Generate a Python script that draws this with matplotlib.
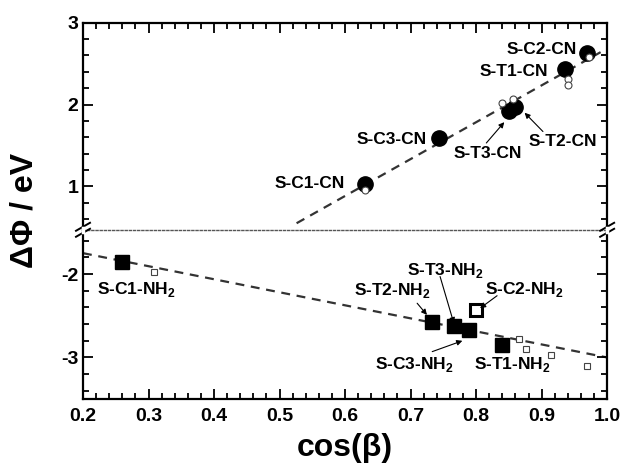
import matplotlib
matplotlib.use("Agg")
import matplotlib.pyplot as plt
from matplotlib.ticker import MultipleLocator
from matplotlib.lines import Line2D

plt.rcParams['font.family'] = ['Liberation Sans', 'DejaVu Sans']
plt.rcParams['font.weight'] = 'bold'
plt.rcParams['axes.unicode_minus'] = False
plt.rcParams['mathtext.fontset'] = 'custom'
plt.rcParams['mathtext.rm'] = 'Liberation Sans:bold'
plt.rcParams['mathtext.bf'] = 'Liberation Sans:bold'

# CN compounds (filled circles) and their small open companions
cn_names = ['S-C1-CN', 'S-C3-CN', 'S-T3-CN', 'S-T2-CN', 'S-T1-CN', 'S-C2-CN']
cn_x = [0.631, 0.744, 0.850, 0.860, 0.936, 0.970]
cn_y = [1.03, 1.595, 1.92, 1.97, 2.44, 2.63]
cn_open_x = [0.631, 0.840, 0.857, 0.940, 0.940, 0.972]
cn_open_y = [0.96, 2.02, 2.07, 2.31, 2.24, 2.58]
cn_fit_x = [0.526, 0.99]
cn_fit_y = [0.55, 2.64]

# NH2 compounds (filled squares), S-C2-NH2 drawn as thick open square
nh2_names = ['S-C1-NH2', 'S-T2-NH2', 'S-T3-NH2', 'S-C3-NH2', 'S-T1-NH2']
nh2_x = [0.259, 0.733, 0.767, 0.789, 0.840]
nh2_y = [-1.86, -2.57, -2.62, -2.67, -2.85]
c2nh2_x = [0.800]
c2nh2_y = [-2.43]
nh2_open_x = [0.308, 0.866, 0.876, 0.914, 0.970]
nh2_open_y = [-1.98, -2.78, -2.90, -2.97, -3.10]
nh2_fit_x = [0.2, 1.0]
nh2_fit_y = [-1.75, -3.0]

fig = plt.figure(figsize=(6.24, 4.68), dpi=100)
ax_top = fig.add_axes([0.133, 0.509, 0.840, 0.4425])
ax_bot = fig.add_axes([0.133, 0.147, 0.840, 0.362])

# lines and markers
ax_top.plot(cn_fit_x, cn_fit_y, ls=(0, (4, 3)), color='#333333', lw=1.6, zorder=1)
ax_top.plot(cn_x, cn_y, 'o', color='black', ms=11, zorder=2)
ax_top.plot(cn_open_x, cn_open_y, 'o', mfc='white', mec='#444444', ms=5, mew=0.8, zorder=3)

ax_bot.plot(nh2_fit_x, nh2_fit_y, ls=(0, (4, 3)), color='#333333', lw=1.6, zorder=1)
ax_bot.plot(nh2_x, nh2_y, 's', color='black', ms=10, zorder=2)
ax_bot.plot(c2nh2_x, c2nh2_y, 's', mfc='white', mec='black', ms=9, mew=2.2, zorder=2)
ax_bot.plot(nh2_open_x, nh2_open_y, 's', mfc='white', mec='#444444', ms=5, mew=0.8, zorder=3)

fs = 12.5
# labels for CN
ax_top.text(0.847, 2.616, 'S-C2-CN', fontsize=fs)
ax_top.text(0.806, 2.35, 'S-T1-CN', fontsize=fs)
ax_top.text(0.617, 1.52, 'S-C3-CN', fontsize=fs)
ax_top.text(0.493, 0.98, 'S-C1-CN', fontsize=fs)
ax_top.annotate('S-T3-CN', xy=(0.843, 1.785), xytext=(0.765, 1.35), fontsize=fs,
                arrowprops=dict(arrowstyle='-|>', color='black', lw=0.8,
                                mutation_scale=8, shrinkA=0, shrinkB=0,
                                relpos=(0.45, 1.0)))
ax_top.annotate('S-T2-CN', xy=(0.874, 1.90), xytext=(0.880, 1.49), fontsize=fs,
                arrowprops=dict(arrowstyle='-|>', color='black', lw=0.8,
                                mutation_scale=8, shrinkA=0, shrinkB=0,
                                relpos=(0.25, 1.0)))

# labels for NH2
sub = r'$_\mathbf{2}$'
ax_bot.text(0.221, -2.24, 'S-C1-NH' + sub, fontsize=fs)
ax_bot.text(0.814, -2.24, 'S-C2-NH' + sub, fontsize=fs)
ax_bot.text(0.797, -3.14, 'S-T1-NH' + sub, fontsize=fs)
arrow = dict(arrowstyle='-|>', color='black', lw=0.8, mutation_scale=8,
             shrinkA=0, shrinkB=0)
ax_bot.text(0.613, -2.25, 'S-T2-NH' + sub, fontsize=fs)
ax_bot.annotate('', xy=(0.725, -2.49), xytext=(0.710, -2.35), arrowprops=arrow)
ax_bot.text(0.694, -2.01, 'S-T3-NH' + sub, fontsize=fs)
ax_bot.annotate('', xy=(0.766, -2.59), xytext=(0.745, -2.03), arrowprops=arrow)
ax_bot.annotate('', xy=(0.806, -2.41), xytext=(0.832, -2.26), arrowprops=arrow)
ax_bot.text(0.646, -3.14, 'S-C3-NH' + sub, fontsize=fs)
ax_bot.annotate('', xy=(0.779, -2.80), xytext=(0.733, -2.93), arrowprops=arrow)

# axes setup
for ax in (ax_top, ax_bot):
    ax.set_xlim(0.2, 1.0)
    ax.xaxis.set_major_locator(MultipleLocator(0.1))
    ax.xaxis.set_minor_locator(MultipleLocator(0.02))
    ax.yaxis.set_major_locator(MultipleLocator(1))
    ax.yaxis.set_minor_locator(MultipleLocator(0.2))
    ax.tick_params(which='both', direction='in', width=1.3, labelsize=14,
                   left=True, right=True)
    ax.tick_params(which='major', length=7)
    ax.tick_params(which='minor', length=4)
    for s in ax.spines.values():
        s.set_linewidth(1.6)
    for lab in ax.get_xticklabels() + ax.get_yticklabels():
        lab.set_fontweight('bold')

ax_top.set_ylim(0.47, 3.0)
ax_bot.set_ylim(-3.5, -1.47)
ax_top.tick_params(which='both', bottom=False, top=True, labelbottom=False)
ax_bot.tick_params(which='both', top=False, bottom=True)
ax_top.spines['bottom'].set_visible(False)
ax_bot.spines['top'].set_linestyle((0, (1.5, 1.5)))
ax_bot.spines['top'].set_linewidth(1.0)
ax_bot.spines['top'].set_color('#555555')
ax_bot.set_xticks([0.2, 0.3, 0.4, 0.5, 0.6, 0.7, 0.8, 0.9, 1.0])
ax_bot.set_xticklabels(['0.2', '0.3', '0.4', '0.5', '0.6', '0.7', '0.8', '0.9', '1.0'])
ax_bot.tick_params(axis='x', pad=6)

ax_bot.set_xlabel('cos(β)', fontsize=23, fontweight='bold', labelpad=6)
fig.text(0.04, 0.55, 'ΔΦ / eV', rotation=90, fontsize=23, fontweight='bold',
         ha='center', va='center')

# axis break marks
W, H = 624.0, 468.0
for xb in (0.133, 0.973):
    yb = 0.509
    for dy in (-3.0, 3.0):
        fig.add_artist(Line2D([xb - 7 / W, xb + 7 / W],
                              [yb + (dy - 4) / H, yb + (dy + 4) / H],
                              transform=fig.transFigure, color='black', lw=1.4))
    fig.add_artist(Line2D([xb, xb], [yb - 2 / H, yb + 2 / H],
                          transform=fig.transFigure, color='white', lw=2.5))

fig.savefig('out.png', dpi=100)
